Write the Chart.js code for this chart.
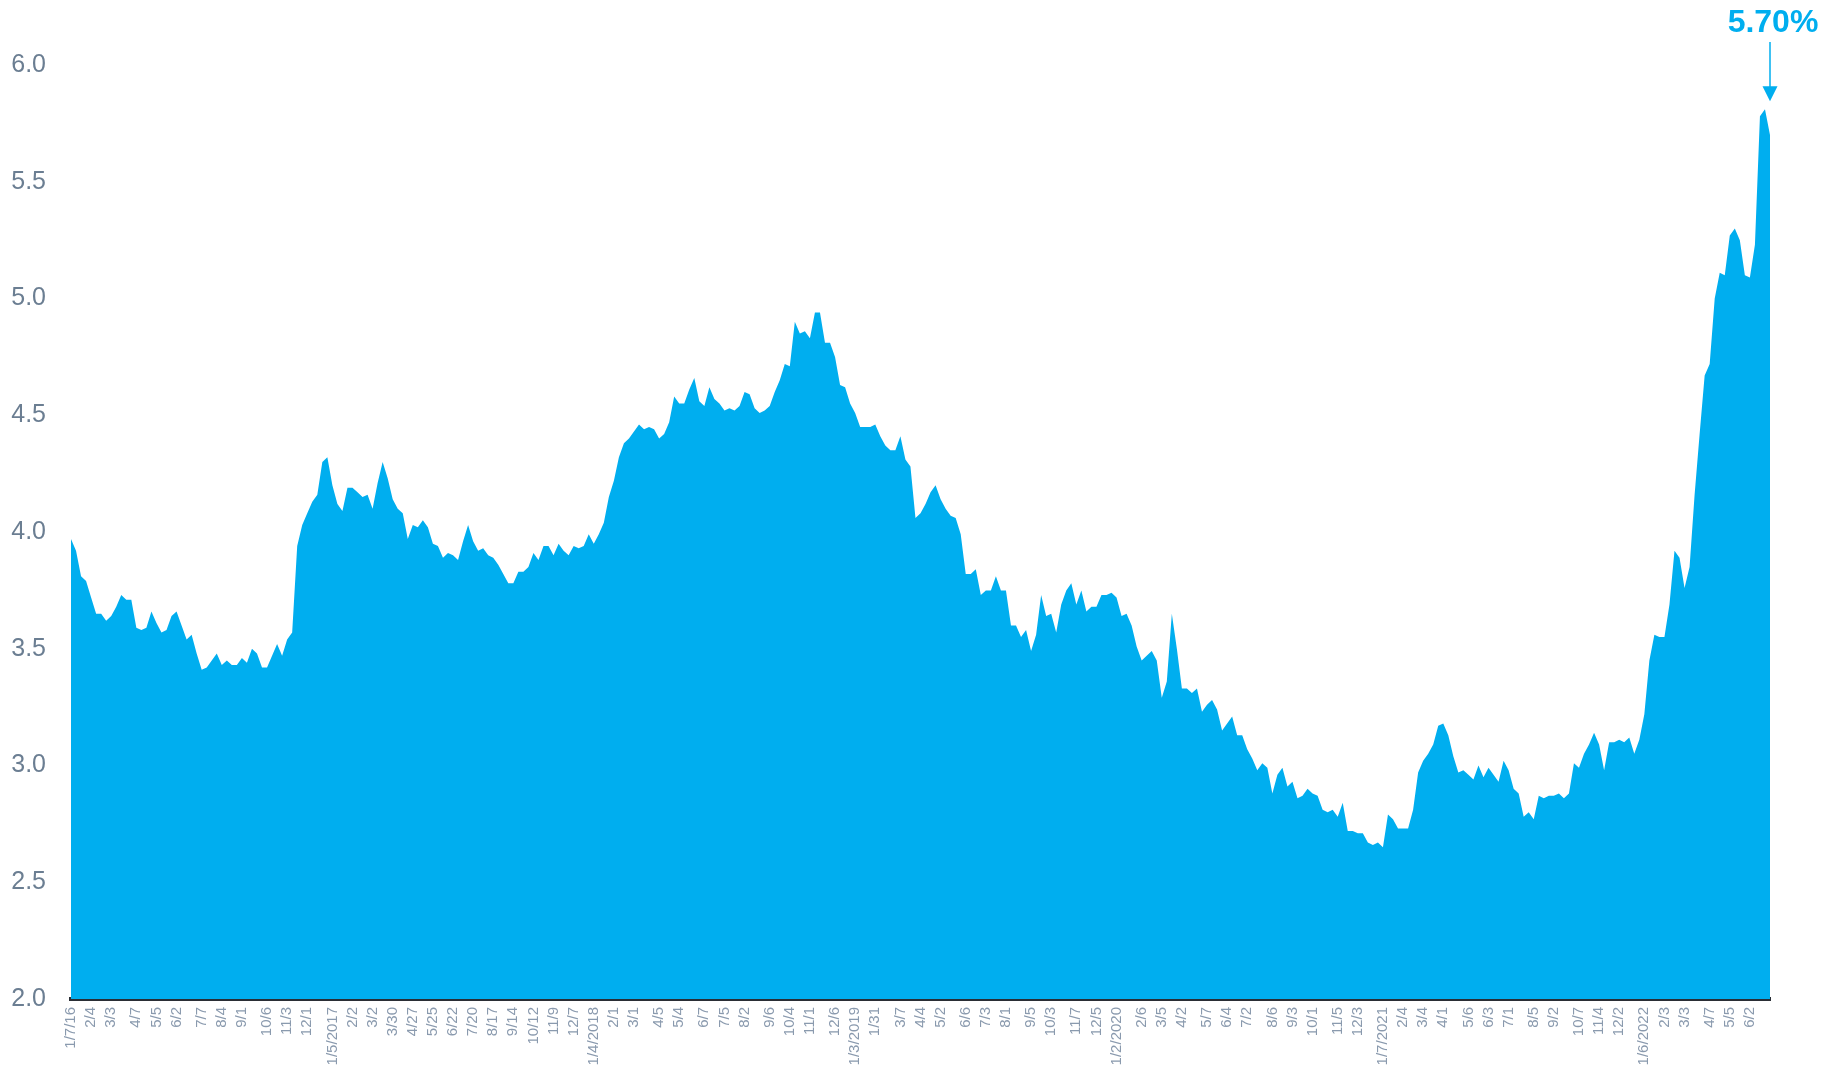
<!DOCTYPE html>
<html>
<head>
<meta charset="utf-8">
<script src="https://cdn.jsdelivr.net/npm/chart.js@4"></script>
<style>
  html, body { margin: 0; padding: 0; background: #ffffff; }
  #wrap { width: 1825px; height: 1069px; position: relative; }
</style>
</head>
<body>
<div id="wrap"><canvas id="rates"></canvas></div>
<script>
// Weekly 30-year fixed mortgage rate (%), Jan 2016 – Jun 2022
const rates2016 = [3.97,3.92,3.81,3.79,3.72,3.65,3.65,3.62,3.64,3.68,3.73,3.71,3.71,3.59,3.58,3.59,3.66,3.61,3.57,3.58,3.64,3.66,3.60,3.54,3.56,3.48,3.41,3.42,3.45,3.48,3.43,3.45,3.43,3.43,3.46,3.44,3.50,3.48,3.42,3.42,3.47,3.52,3.47,3.54,3.57,3.94,4.03,4.08,4.13,4.16,4.30,4.32];
const rates2017 = [4.20,4.12,4.09,4.19,4.19,4.17,4.15,4.16,4.10,4.21,4.30,4.23,4.14,4.10,4.08,3.97,4.03,4.02,4.05,4.02,3.95,3.94,3.89,3.91,3.90,3.88,3.96,4.03,3.96,3.92,3.93,3.90,3.89,3.86,3.82,3.78,3.78,3.83,3.83,3.85,3.91,3.88,3.94,3.94,3.90,3.95,3.92,3.90,3.94,3.93,3.94,3.99];
const rates2018 = [3.95,3.99,4.04,4.15,4.22,4.32,4.38,4.40,4.43,4.46,4.44,4.45,4.44,4.40,4.42,4.47,4.58,4.55,4.55,4.61,4.66,4.56,4.54,4.62,4.57,4.55,4.52,4.53,4.52,4.54,4.60,4.59,4.53,4.51,4.52,4.54,4.60,4.65,4.72,4.71,4.90,4.85,4.86,4.83,4.94,4.94,4.81,4.81,4.75,4.63,4.62,4.55];
const rates2019 = [4.51,4.45,4.45,4.45,4.46,4.41,4.37,4.35,4.35,4.41,4.31,4.28,4.06,4.08,4.12,4.17,4.20,4.14,4.10,4.07,4.06,3.99,3.82,3.82,3.84,3.73,3.75,3.75,3.81,3.75,3.75,3.60,3.60,3.55,3.58,3.49,3.56,3.73,3.64,3.65,3.57,3.69,3.75,3.78,3.69,3.75,3.66,3.68,3.68,3.73,3.73,3.74];
const rates2020 = [3.72,3.64,3.65,3.60,3.51,3.45,3.47,3.49,3.45,3.29,3.36,3.65,3.50,3.33,3.33,3.31,3.33,3.23,3.26,3.28,3.24,3.15,3.18,3.21,3.13,3.13,3.07,3.03,2.98,3.01,2.99,2.88,2.96,2.99,2.91,2.93,2.86,2.87,2.90,2.88,2.87,2.81,2.80,2.81,2.78,2.84,2.72,2.72,2.71,2.71,2.67,2.66,2.67];
const rates2021 = [2.65,2.79,2.77,2.73,2.73,2.73,2.81,2.97,3.02,3.05,3.09,3.17,3.18,3.13,3.04,2.97,2.98,2.96,2.94,3.00,2.95,2.99,2.96,2.93,3.02,2.98,2.90,2.88,2.78,2.80,2.77,2.87,2.86,2.87,2.87,2.88,2.86,2.88,3.01,2.99,3.05,3.09,3.14,3.09,2.98,3.10,3.10,3.11,3.10,3.12,3.05,3.11];
const rates2022 = [3.22,3.45,3.56,3.55,3.55,3.69,3.92,3.89,3.76,3.85,4.16,4.42,4.67,4.72,5.00,5.11,5.10,5.27,5.30,5.25,5.10,5.09,5.23,5.78,5.81,5.70];

const rates = [].concat(rates2016, rates2017, rates2018, rates2019, rates2020, rates2021, rates2022);

// Survey release dates that fell off the usual Thursday
const releaseDateOverrides = { '2018-5-3': '5/4', '2019-7-4': '7/3' };

// Dates printed along the bottom axis
const shownTicks = [
  '1/7/16','2/4','3/3','4/7','5/5','6/2','7/7','8/4','9/1','10/6','11/3','12/1',
  '1/5/2017','2/2','3/2','3/30','4/27','5/25','6/22','7/20','8/17','9/14','10/12','11/9','12/7',
  '1/4/2018','2/1','3/1','4/5','5/4','6/7','7/5','8/2','9/6','10/4','11/1','12/6',
  '1/3/2019','1/31','3/7','4/4','5/2','6/6','7/3','8/1','9/5','10/3','11/7','12/5',
  '1/2/2020','2/6','3/5','4/2','5/7','6/4','7/2','8/6','9/3','10/1','11/5','12/3',
  '1/7/2021','2/4','3/4','4/1','5/6','6/3','7/1','8/5','9/2','10/7','11/4','12/2',
  '1/6/2022','2/3','3/3','4/7','5/5','6/2'
];

const yTicks = [2.0, 2.5, 3.0, 3.5, 4.0, 4.5, 5.0, 5.5, 6.0];
const calloutText = '5.70%';

// Weekly release dates, one per rate
const weekLabels = [];
{
  const d = new Date(2016, 0, 7);
  let prevYear = null;
  for (let i = 0; i < rates.length; i++) {
    const y = d.getFullYear(), m = d.getMonth() + 1, day = d.getDate();
    const key = y + '-' + m + '-' + day;
    let lbl = releaseDateOverrides[key] || (m + '/' + day);
    if (i === 0) lbl = m + '/' + day + '/' + String(y).slice(2);
    else if (y !== prevYear) lbl = m + '/' + day + '/' + y;
    weekLabels.push(lbl);
    prevYear = y;
    d.setDate(d.getDate() + 7);
  }
}

// Which week indices carry a printed date
const shownIdx = new Set();
{
  let j = 0;
  for (const t of shownTicks) {
    while (j < weekLabels.length && weekLabels[j] !== t) j++;
    if (j < weekLabels.length) { shownIdx.add(j); j++; }
  }
}

const BLUE = '#00AEEF';
const FONT = '"Liberation Sans", Arial, sans-serif';

const callout = {
  id: 'callout',
  afterDraw(chart) {
    const { ctx, scales: { x, y } } = chart;
    const last = rates.length - 1;
    const px = x.getPixelForValue(last);
    const peak = Math.max(...rates.slice(-4));
    const tipY = y.getPixelForValue(peak) - 8;
    ctx.save();
    ctx.fillStyle = BLUE;
    ctx.strokeStyle = BLUE;
    ctx.font = 'bold 32px ' + FONT;
    ctx.textAlign = 'center';
    ctx.textBaseline = 'alphabetic';
    ctx.fillText(calloutText, px + 3, 32);
    ctx.lineWidth = 1.5;
    ctx.beginPath();
    ctx.moveTo(px, 42);
    ctx.lineTo(px, tipY - 14);
    ctx.stroke();
    ctx.beginPath();
    ctx.moveTo(px - 7.5, tipY - 15);
    ctx.lineTo(px + 7.5, tipY - 15);
    ctx.lineTo(px, tipY);
    ctx.closePath();
    ctx.fill();
    ctx.restore();
  }
};

new Chart(document.getElementById('rates'), {
  type: 'line',
  data: {
    labels: weekLabels,
    datasets: [{
      data: rates,
      fill: 'start',
      backgroundColor: BLUE,
      borderColor: BLUE,
      borderWidth: 0,
      pointRadius: 0,
      tension: 0
    }]
  },
  options: {
    responsive: true,
    maintainAspectRatio: false,
    animation: false,
    layout: { padding: { top: 65, right: 55, left: 0, bottom: 0 } },
    plugins: { legend: { display: false }, tooltip: { enabled: false } },
    scales: {
      x: {
        z: 1,
        grid: { display: false, drawTicks: false },
        border: { display: true, color: '#2a2e35', width: 4 },
        afterFit(scale) { scale.height = 70; },
        ticks: {
          autoSkip: false,
          minRotation: 90,
          maxRotation: 90,
          padding: 8,
          color: '#8a9aae',
          font: { family: FONT, size: 15 },
          callback(value, index) { return shownIdx.has(index) ? weekLabels[index] : ''; }
        }
      },
      y: {
        min: yTicks[0],
        max: yTicks[yTicks.length - 1],
        grid: { display: false, drawTicks: false },
        border: { display: false },
        afterFit(scale) { scale.width = 71; },
        afterBuildTicks(scale) { scale.ticks = yTicks.map(v => ({ value: v })); },
        ticks: {
          padding: 25,
          color: '#6b7e92',
          font: { family: FONT, size: 25 },
          callback(v) { return Number(v).toFixed(1); }
        }
      }
    }
  },
  plugins: [callout]
});
</script>
</body>
</html>
